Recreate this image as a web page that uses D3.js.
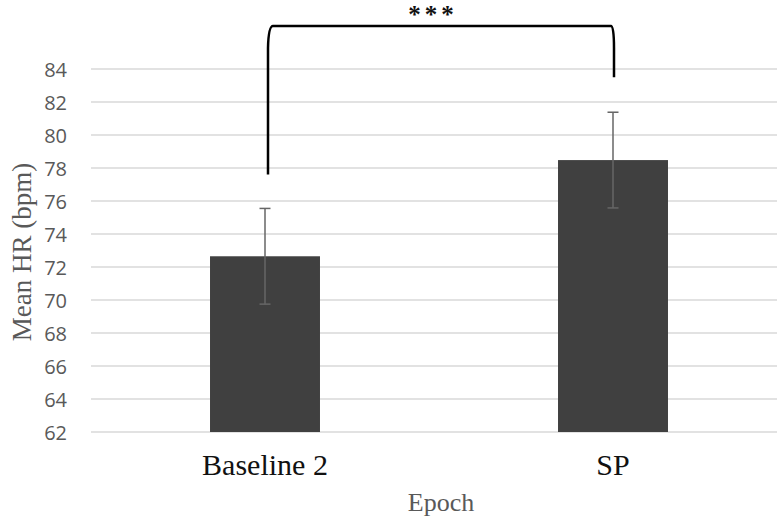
<!DOCTYPE html>
<html lang="en">
<head>
  <meta charset="utf-8">
  <title>Mean HR by epoch</title>
  <script src="https://d3js.org/d3.v7.min.js"></script>
  <style>
    body { margin: 0; background: #fff; }
  </style>
</head>
<body>
<script>
// values
var epochs = ['Baseline 2', 'SP'];
var meanHR = [72.65, 78.48];
var errHR = [2.9, 2.9];
var yTicks = [62, 64, 66, 68, 70, 72, 74, 76, 78, 80, 82, 84];
// significance bracket: heights of the left end, right end and top
var bracketEnds = [77.6, 83.5];
var bracketTop = 86.6;
var sigLabel = '***';

var w = 777, h = 518;

var x = d3.scaleBand()
  .domain(epochs)
  .range([91, 787])
  .paddingInner(0.684)
  .paddingOuter(0.342);

var y = d3.scaleLinear()
  .domain([62, 84])
  .range([432, 69]);

var svg = d3.select('body').append('svg')
  .attr('width', w)
  .attr('height', h);

// gridlines
svg.append('g').selectAll('line')
  .data(yTicks)
  .enter().append('line')
  .attr('x1', 91)
  .attr('x2', w)
  .attr('y1', function(d) { return y(d); })
  .attr('y2', function(d) { return y(d); })
  .attr('stroke', '#d9d9d9')
  .attr('stroke-width', 1.5);

// y axis labels (no axis line, Excel style)
var yAxis = svg.append('g')
  .attr('transform', 'translate(67,0)')
  .call(d3.axisLeft(y).tickValues(yTicks).tickSize(0).tickPadding(0));
yAxis.select('.domain').remove();
yAxis.selectAll('text')
  .attr('fill', '#595959')
  .attr('dy', '0.35em')
  .style('font-family', '"Open Sans", sans-serif')
  .style('font-size', '20px');

// bars
svg.append('g').selectAll('rect')
  .data(epochs)
  .enter().append('rect')
  .attr('x', function(d) { return x(d); })
  .attr('width', x.bandwidth())
  .attr('y', function(d, i) { return y(meanHR[i]); })
  .attr('height', function(d, i) { return y(62) - y(meanHR[i]); })
  .attr('fill', '#404040');

// error bars
var eb = svg.append('g')
  .attr('stroke', '#666')
  .attr('stroke-width', 1.5);
epochs.forEach(function(d, i) {
  var cx = x(d) + x.bandwidth() / 2;
  var hi = y(meanHR[i] + errHR[i]);
  var lo = y(meanHR[i] - errHR[i]);
  eb.append('line').attr('x1', cx).attr('x2', cx).attr('y1', hi).attr('y2', lo);
  eb.append('line').attr('x1', cx - 5.5).attr('x2', cx + 5.5).attr('y1', hi).attr('y2', hi);
  eb.append('line').attr('x1', cx - 5.5).attr('x2', cx + 5.5).attr('y1', lo).attr('y2', lo);
});

// x axis labels
svg.append('g').selectAll('text')
  .data(epochs)
  .enter().append('text')
  .attr('x', function(d) { return x(d) + x.bandwidth() / 2; })
  .attr('y', 475)
  .attr('text-anchor', 'middle')
  .attr('fill', '#111')
  .style('font-family', '"Liberation Serif", serif')
  .style('font-size', '30px')
  .text(function(d) { return d; });

// axis titles
svg.append('text')
  .attr('x', 441)
  .attr('y', 511)
  .attr('text-anchor', 'middle')
  .attr('fill', '#595959')
  .style('font-family', '"Liberation Serif", serif')
  .style('font-size', '26px')
  .text('Epoch');

svg.append('text')
  .attr('transform', 'translate(31,252) rotate(-90)')
  .attr('text-anchor', 'middle')
  .attr('fill', '#595959')
  .style('font-family', '"Liberation Serif", serif')
  .style('font-size', '27px')
  .text('Mean HR (bpm)');

// significance bracket
var bx1 = x(epochs[0]) + x.bandwidth() / 2 + 3;
var bx2 = x(epochs[1]) + x.bandwidth() / 2 + 1;
var yt = y(bracketTop);
var bracket = d3.path();
bracket.moveTo(bx1, y(bracketEnds[0]));
bracket.lineTo(bx1, yt + 22);
bracket.quadraticCurveTo(bx1 + 0.5, yt, bx1 + 5, yt);
bracket.lineTo(bx2 - 3, yt);
bracket.quadraticCurveTo(bx2, yt, bx2, yt + 22);
bracket.lineTo(bx2, y(bracketEnds[1]));
svg.append('path')
  .attr('d', bracket.toString())
  .attr('fill', 'none')
  .attr('stroke', '#000')
  .attr('stroke-width', 2.5);

svg.append('text')
  .attr('x', (bx1 + bx2) / 2 - 8)
  .attr('y', yt - 3)
  .attr('text-anchor', 'middle')
  .attr('fill', '#111')
  .style('font-family', '"Liberation Serif", serif')
  .style('font-weight', 'bold')
  .style('font-size', '25px')
  .style('letter-spacing', '4px')
  .text(sigLabel);
</script>
</body>
</html>
